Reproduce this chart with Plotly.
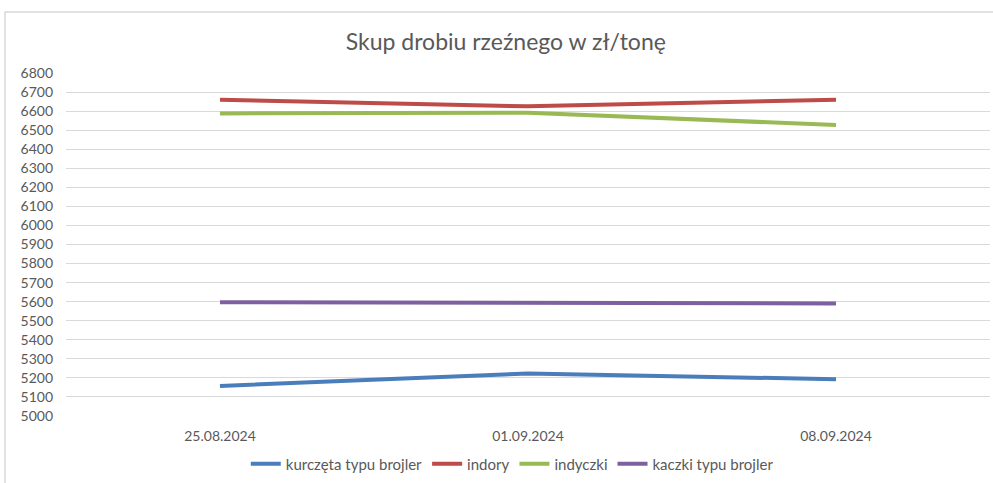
import plotly.graph_objects as go

dates = ["25.08.2024", "01.09.2024", "08.09.2024"]
kurczeta = [5158, 5223, 5193]
indory = [6660, 6625, 6660]
indyczki = [6588, 6592, 6527]
kaczki = [5597, 5596, 5591]

y_ticks = list(range(5000, 6801, 100))

series = [
    ("kurczęta typu brojler", kurczeta, "#4a7ebb"),
    ("indory", indory, "#be4b48"),
    ("indyczki", indyczki, "#98b954"),
    ("kaczki typu brojler", kaczki, "#7d60a0"),
]

fig = go.Figure()
for name, vals, col in series:
    fig.add_trace(go.Scatter(x=dates, y=vals, name=name, mode="lines",
                             line=dict(color=col, width=4)))

font_family = "Lato, Open Sans, sans-serif"
fig.update_layout(
    width=993, height=483,
    margin=dict(l=66, r=3, t=73, b=59),
    paper_bgcolor="white", plot_bgcolor="white",
    title=dict(text="Skup drobiu rzeźnego w zł/tonę", x=0.476, xref="paper",
               xanchor="center",
               y=1 - 42 / 483, yref="container", yanchor="middle",
               font=dict(family=font_family, size=23, color="#595959")),
    font=dict(family=font_family, size=13, color="#595959"),
    showlegend=True,
    legend=dict(orientation="h", x=0.483, xanchor="center", y=-0.14, yanchor="middle",
                font=dict(size=15, color="#595959"), itemwidth=30, tracegroupgap=0),
    xaxis=dict(type="category", range=[-0.5, 2.5], showgrid=False, zeroline=False,
               showline=False, automargin=False,
               ticks="", tickfont=dict(size=14, color="#595959"),
               ticklabelstandoff=10),
    yaxis=dict(range=[5000, 6800], tickvals=y_ticks, showgrid=True,
               gridcolor="#d9d9d9", gridwidth=1, zeroline=False, showline=False,
               automargin=False,
               ticks="", tickfont=dict(size=14, color="#595959"),
               ticklabelstandoff=12),
    shapes=[dict(type="rect", xref="paper", yref="paper",
                 x0=-0.066, x1=1.02, y0=-0.3, y1=1.178,
                 line=dict(color="#d9d9d9", width=1.5), fillcolor="rgba(0,0,0,0)",
                 layer="below")],
)

fig.write_html("out.html",
               config={"displayModeBar": False},
               post_script="document.body.style.margin='0';document.body.style.padding='0';")
